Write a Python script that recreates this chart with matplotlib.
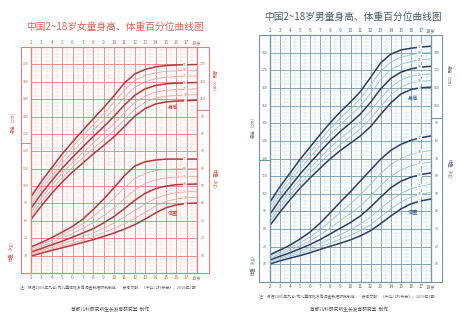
import numpy as np
import matplotlib.pyplot as plt
from matplotlib.patches import Rectangle

plt.rcParams['font.family'] = ['Noto Sans CJK SC', 'DejaVu Sans']

W, H = 461, 322

ages = [2, 3, 4, 5, 6, 7, 8, 9, 10, 11, 12, 13, 14, 15, 16, 17, 18]
pct_labels = ['3', '10', '25', '50', '75', '90', '97']

# girls, height (cm), rows P3..P97
girl_height = [
    [80.9, 88.6, 95.8, 102.3, 108.1, 113.3, 118.5, 123.3, 128.3, 134.2, 140.2, 144.6, 147.2, 148.4, 148.9, 149.1, 149.4],
    [82.9, 90.8, 98.1, 104.8, 110.8, 116.2, 121.6, 126.7, 132.1, 138.2, 144.1, 148.2, 150.6, 151.7, 152.2, 152.4, 152.7],
    [85.0, 93.1, 100.6, 107.3, 113.5, 119.2, 124.9, 130.2, 135.9, 142.2, 148.0, 151.8, 154.0, 155.1, 155.5, 155.7, 156.0],
    [87.2, 95.6, 103.1, 110.2, 116.6, 122.5, 128.5, 134.1, 140.1, 146.6, 152.2, 155.9, 157.9, 158.8, 159.2, 159.4, 159.6],
    [89.6, 98.1, 105.7, 113.1, 119.7, 125.9, 132.1, 138.0, 144.4, 151.1, 156.7, 160.0, 161.8, 162.6, 163.0, 163.2, 163.3],
    [91.7, 100.4, 108.2, 115.7, 122.5, 129.0, 135.4, 141.6, 148.2, 155.2, 160.7, 163.6, 165.2, 166.0, 166.3, 166.5, 166.6],
    [93.9, 102.7, 110.6, 118.4, 125.4, 132.1, 138.7, 145.1, 152.0, 159.2, 164.5, 167.1, 168.6, 169.3, 169.7, 169.8, 169.9],
]
# girls, weight (kg)
girl_weight = [
    [9.8, 11.4, 13.0, 14.5, 16.0, 17.6, 19.2, 21.0, 23.0, 25.2, 27.8, 31.0, 34.5, 37.5, 39.2, 40.0, 40.3],
    [10.4, 12.2, 13.9, 15.6, 17.3, 19.1, 21.0, 23.1, 25.6, 28.3, 31.4, 35.0, 38.4, 41.1, 42.6, 43.3, 43.6],
    [11.1, 13.0, 14.9, 16.8, 18.8, 20.9, 23.1, 25.7, 28.7, 32.2, 35.9, 39.7, 42.9, 45.0, 46.2, 46.7, 47.0],
    [12.0, 14.1, 16.2, 18.3, 20.6, 23.0, 25.5, 28.8, 32.5, 37.0, 41.8, 45.8, 48.5, 50.0, 50.8, 51.0, 51.2],
    [13.0, 15.3, 17.6, 20.1, 22.8, 25.7, 29.0, 33.0, 37.5, 42.8, 47.7, 51.5, 53.6, 54.7, 55.2, 55.4, 55.5],
    [14.0, 16.4, 18.9, 21.8, 24.8, 28.3, 32.6, 37.5, 43.0, 49.0, 54.3, 57.4, 58.9, 59.6, 59.9, 60.0, 60.1],
    [15.0, 17.5, 20.3, 23.5, 26.8, 31.0, 36.5, 42.5, 49.0, 56.0, 61.5, 64.0, 65.0, 65.5, 65.5, 65.5, 65.5],
]
# boys, height (cm)
boy_height = [
    [82.1, 89.7, 96.7, 103.3, 109.1, 114.6, 119.9, 124.6, 128.7, 132.9, 138.1, 145.0, 151.5, 156.5, 159.1, 160.1, 160.5],
    [84.1, 92.0, 99.1, 105.8, 111.8, 117.6, 123.1, 128.0, 132.3, 136.8, 142.5, 149.6, 155.9, 160.5, 162.9, 163.8, 164.2],
    [86.1, 94.3, 101.6, 108.4, 114.6, 120.6, 126.3, 131.4, 136.0, 140.8, 147.0, 154.3, 160.4, 164.5, 166.6, 167.6, 168.0],
    [88.5, 96.8, 104.1, 111.3, 117.7, 124.0, 130.0, 135.4, 140.2, 145.3, 151.9, 159.5, 165.4, 168.9, 170.8, 171.8, 172.3],
    [90.9, 99.4, 106.9, 114.2, 120.9, 127.4, 133.7, 139.3, 144.4, 149.9, 157.0, 164.8, 170.3, 173.3, 175.0, 176.0, 176.5],
    [93.1, 101.8, 109.3, 116.9, 123.7, 130.5, 137.1, 142.9, 148.2, 154.0, 161.5, 169.5, 174.7, 177.4, 178.8, 179.8, 180.3],
    [95.3, 104.1, 111.8, 119.6, 126.6, 133.7, 140.4, 146.5, 152.0, 158.1, 166.0, 174.2, 179.1, 181.5, 182.5, 183.2, 183.6],
]
# boys, weight (kg)
boy_weight = [
    [10.2, 12.0, 13.5, 15.0, 16.6, 18.5, 20.3, 22.0, 23.9, 26.2, 29.1, 33.1, 37.4, 41.4, 44.3, 46.0, 47.0],
    [10.9, 12.8, 14.5, 16.2, 18.0, 20.0, 22.1, 24.2, 26.5, 29.2, 32.6, 37.0, 41.4, 45.3, 48.1, 49.8, 50.8],
    [11.6, 13.6, 15.5, 17.5, 19.6, 21.9, 24.4, 26.9, 29.6, 32.8, 36.8, 41.7, 46.3, 50.1, 52.8, 54.4, 55.3],
    [12.5, 14.6, 16.6, 18.9, 21.3, 24.1, 27.3, 30.5, 33.7, 37.5, 42.5, 48.1, 53.4, 57.1, 59.4, 60.9, 61.8],
    [13.6, 15.8, 18.0, 20.6, 23.4, 26.8, 30.8, 34.8, 38.8, 43.2, 48.8, 54.7, 59.9, 63.5, 65.8, 67.2, 68.0],
    [14.5, 16.9, 19.3, 22.3, 25.6, 29.6, 34.5, 39.4, 44.3, 49.5, 55.5, 61.5, 66.5, 70.0, 72.3, 73.7, 74.5],
    [15.5, 18.1, 20.9, 24.4, 28.4, 33.5, 39.3, 45.4, 51.2, 57.4, 63.5, 69.6, 74.6, 78.0, 80.3, 81.8, 82.8],
]

age_ticks = [str(a) for a in range(2, 18)] + ['18岁']

note = '注：根据2005年九省/市儿童体格发育调查数据研究制定        参考文献：《中华儿科杂志》，2009年7期'
footer = '首都儿科研究所生长发育研究室  制作'

fig = plt.figure(figsize=(W / 100, H / 100), dpi=100)
fig.patch.set_facecolor('white')


def ftext(px, py, s, **kw):
    fig.text(px / W, 1 - py / H, s, **kw)


def growth_chart(box, frame, hlim, wlim, heights, weights, left_h, left_w, right_h, right_w,
                 left_break, right_break, name_pos, st):
    x0, x1, top, bot = box
    ax = fig.add_axes([x0 / W, 1 - bot / H, (x1 - x0) / W, (bot - top) / H])
    ax.set_xlim(2, 18)
    ax.set_ylim(*hlim)
    axw = ax.twinx()
    axw.set_ylim(*wlim)
    axw.set_yticks([])

    # grid paper
    ax.set_xticks(range(2, 19))
    ax.set_xticks(np.arange(2, 18, 0.5), minor=True)
    ax.set_yticks(np.arange(hlim[0], hlim[1] + 1, 10))
    ax.set_yticks(np.arange(hlim[0], hlim[1], 2), minor=True)
    ax.grid(which='minor', color=st['minor'], lw=0.35)
    ax.grid(which='major', color=st['major'], lw=0.6)
    ax.set_axisbelow(True)
    ax.set_xticklabels(age_ticks)
    ax.tick_params(axis='x', which='both', length=0, labelsize=3.4, pad=1.5,
                   labeltop=True, labelbottom=True, labelcolor=st['tick'])
    ax.tick_params(axis='y', which='both', length=0, labelleft=False)
    for a in (ax, axw):
        for sp in a.spines.values():
            sp.set_color(st['major'])
            sp.set_linewidth(0.8)

    # side label columns
    span = x1 - x0
    fl = (frame[0] - x0) / span
    fr = (frame[1] - x0) / span
    for xa, wd in ((fl, -fl), (1, fr - 1)):
        ax.add_patch(Rectangle((xa, 0), wd, 1, transform=ax.transAxes, fill=False,
                               ec=st['major'], lw=0.8, clip_on=False))
    ax.plot([fl, 0], [left_break, left_break], transform=ax.get_yaxis_transform(),
            color=st['major'], lw=0.8, clip_on=False)
    ax.plot([1, fr], [right_break, right_break], transform=ax.get_yaxis_transform(),
            color=st['major'], lw=0.8, clip_on=False)
    for v in left_h:
        ax.text(fl / 2, v, str(v), transform=ax.get_yaxis_transform(), ha='center',
                va='center', fontsize=2.6, color=st['tick'])
    for v in right_h:
        ax.text((1 + fr) / 2, v, str(v), transform=ax.get_yaxis_transform(), ha='center',
                va='center', fontsize=2.6, color=st['tick'])
    for v in left_w:
        axw.text(fl / 2, v, str(v), transform=axw.get_yaxis_transform(), ha='center',
                 va='center', fontsize=2.6, color=st['tick'])
    for v in right_w:
        axw.text((1 + fr) / 2, v, str(v), transform=axw.get_yaxis_transform(), ha='center',
                 va='center', fontsize=2.6, color=st['tick'])

    # percentile curves
    for a, rows in ((ax, heights), (axw, weights)):
        for i, row in enumerate(rows):
            thick = i in (0, 3, 6)
            a.plot(ages, row, color=st['thick'] if thick else st['thin'],
                   lw=1.1 if thick else 0.55, solid_capstyle='round')
            a.text(16.85, row[15], pct_labels[i], fontsize=2.4, color=st['tick'],
                   ha='center', va='center',
                   bbox=dict(boxstyle='square,pad=0.15', fc='white', ec='none'))
    ax.text(name_pos[0], name_pos[1], '身高', fontsize=3.8, color=st['label'],
            ha='center', va='center')
    axw.text(name_pos[0], name_pos[2], '体重', fontsize=3.8, color=st['label'],
             ha='center', va='center')
    return ax


girl_style = dict(major='#e3807c', minor='#f6d2d0', thick='#b8363c', thin='#e9a2a2',
                  tick='#c9605a', label='#d9453f')
boy_style = dict(major='#7497a8', minor='#c6dce1', thick='#2e3b68', thin='#95bfcd',
                 tick='#5a6b78', label='#3b5c8c')

growth_chart((31, 197, 47, 273), (21, 209), (50, 180), (0, 130), girl_height, girl_weight,
             [90, 100, 110, 120, 130, 140, 150, 160, 170, 80], [10, 20],
             [150, 160, 170], [10, 20, 30, 40, 50, 60, 70, 80, 90],
             124.5, 143.8, (15.7, 145.0, 34.5), girl_style)

growth_chart((270, 431, 35, 282), (259, 442), (50, 190), (0, 140), boy_height, boy_weight,
             [80, 90, 100, 110, 120, 130, 140, 150, 160, 170, 180], [10, 20],
             [150, 160, 170, 180], [10, 20, 30, 40, 50, 60, 70, 80, 90],
             119.0, 143.0, (16.2, 153.8, 40.0), boy_style)

# titles, axis names and notes
ftext(115, 27, '中国2~18岁女童身高、体重百分位曲线图', fontsize=7, color='#e0625a',
      ha='center', va='center')
ftext(353, 17, '中国2~18岁男童身高、体重百分位曲线图', fontsize=7, color='#4f5860',
      ha='center', va='center')

for px, py, s, rot, c in [
        (13, 121, '身高（cm）', 90, '#d2524c'), (11, 250, '体重（kg）', 90, '#d2524c'),
        (214, 82, '身高（cm）', 270, '#d2524c'), (214, 180, '体重（kg）', 270, '#d2524c'),
        (253, 126, '身高（cm）', 90, '#5a6b78'), (253, 264, '体重（kg）', 90, '#5a6b78'),
        (449, 77, '身高（cm）', 270, '#5a6b78'), (449, 170, '体重（kg）', 270, '#5a6b78')]:
    ftext(px, py, s, fontsize=3.2, color=c, rotation=rot, ha='center', va='center')

ftext(20, 288, note, fontsize=2.8, color='#666666', ha='left', va='center')
ftext(110, 309, footer, fontsize=3.4, color='#555555', ha='center', va='center')
ftext(259, 297, note, fontsize=2.8, color='#666666', ha='left', va='center')
ftext(349, 309, footer, fontsize=3.4, color='#555555', ha='center', va='center')

fig.savefig('out.png', dpi=100, facecolor='white')
